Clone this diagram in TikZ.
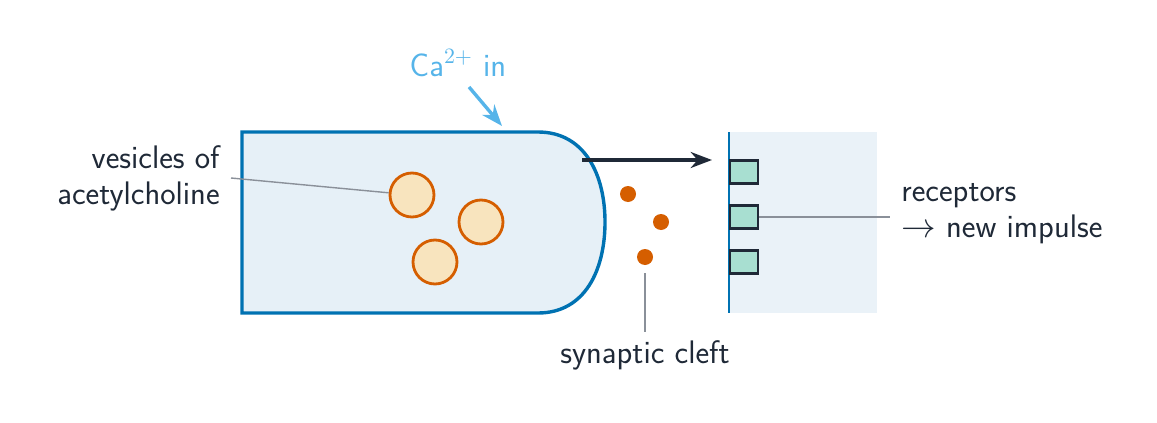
\documentclass[tikz,border=0pt]{standalone}
\usepackage{tikz}
\usetikzlibrary{arrows.meta}
\renewcommand{\familydefault}{\sfdefault}
\definecolor{membrane}{HTML}{0072B2}
\definecolor{termfill}{HTML}{E6F0F7}
\definecolor{postfill}{HTML}{EAF2F8}
\definecolor{vesfill}{HTML}{F8E4BE}
\definecolor{ach}{HTML}{D55E00}
\definecolor{recfill}{HTML}{A8DFD1}
\definecolor{ink}{HTML}{1F2937}
\definecolor{calcium}{HTML}{56B4E9}
\definecolor{leader}{HTML}{8A9099}
\begin{document}
\begin{tikzpicture}[x=0.5pt,y=-0.5pt,>=Stealth,font=\sffamily\fontsize{16.3}{18}\selectfont,text=ink]
		\tikzstyle{vesicle}=[circle,draw=ach,fill=vesfill,line width=1.4pt,minimum size=22pt,inner sep=0pt];
		\tikzstyle{molecule}=[circle,fill=ach,minimum size=8pt,inner sep=0pt];
		\tikzstyle{receptor}=[rectangle,draw=ink,fill=recfill,line width=1.1pt,minimum width=14pt,minimum height=11.5pt,inner sep=0pt];
		\tikzstyle{leaderline}=[draw=leader,line width=0.7pt];
		\useasboundingbox (0,0) rectangle (1157,423);
		% terminal and postsynaptic side
		\fill[postfill] (730,132) rectangle (877,313);
		\draw[membrane,line width=1.7pt,fill=termfill] (242,132) -- (538,132)
			.. controls (585,132) and (605,175) .. (605,222)
			.. controls (605,270) and (585,313) .. (538,313) -- (242,313) -- cycle;
		\draw[membrane,line width=1.1pt] (729,132) -- (729,313);
		% vesicles and transmitter
		\node[vesicle](v1) at (412,195){};
		\node[vesicle](v2) at (481,222){};
		\node[vesicle](v3) at (435,262){};
		\node[molecule](m1) at (628,194){};
		\node[molecule](m2) at (661,222){};
		\node[molecule](m3) at (645,257){};
		\node[receptor](r1) at (744,172){};
		\node[receptor](r2) at (744,217){};
		\node[receptor](r3) at (744,262){};
		% arrows
		\coordinate (relstart) at (582,160);
		\coordinate (relend) at (712,160);
		\draw[->,ink,line width=1.7pt] (relstart) -- (relend);
		\node[text=calcium](ca) at (458,63){Ca$^{2+}$ in};
		\coordinate (caend) at (502,126);
		\draw[->,calcium,line width=1.7pt] (469,87) -- (caend);
		% labels
		\node[anchor=east,align=right,inner sep=0pt](ves) at (220,178){vesicles of\\acetylcholine};
		\draw[leaderline] (231,178) -- (v1);
		\node[anchor=west,align=left,inner sep=0pt](rec) at (901,214){receptors\\$\rightarrow$ new impulse};
		\coordinate (recend) at (890,217);
		\draw[leaderline] (r2.east) -- (recend);
		\node(cleft) at (645,355){synaptic cleft};
		\coordinate (cleftend) at (645,332);
		\draw[leaderline] (m3) ++(0,16) -- (cleftend);
	\end{tikzpicture}
\end{document}
